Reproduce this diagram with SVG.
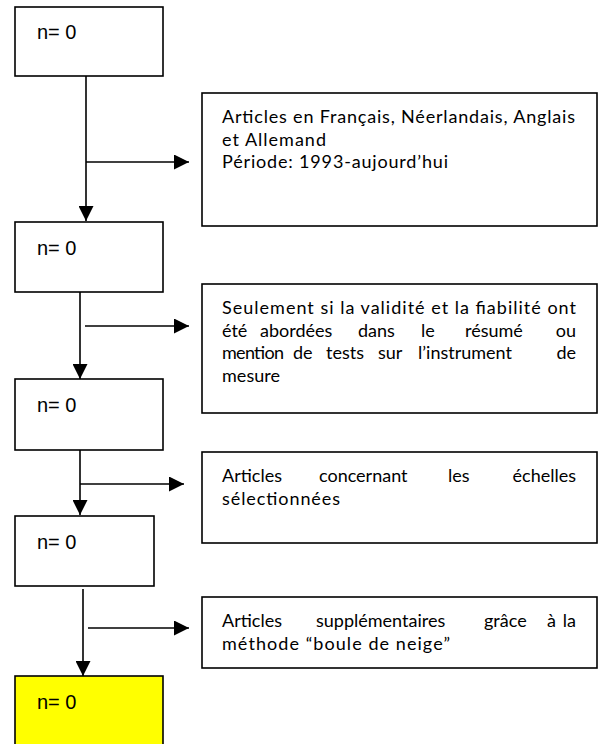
<svg xmlns="http://www.w3.org/2000/svg" width="605" height="744" viewBox="0 0 605 744">
<defs>
<style>
.box{fill:#fff;stroke:#000;stroke-width:1.6}
.yel{fill:#ffff00;stroke:#000;stroke-width:1.6}
.n{font-family:"Liberation Sans",Arial,sans-serif;font-size:20px;fill:#000}
.t{font-family:Lato,"Open Sans",sans-serif;font-size:18px;fill:#000}
.e{text-anchor:end}
.ln{stroke:#000;stroke-width:1.6;fill:none;marker-end:url(#ah)}
</style>
<marker id="ah" markerUnits="userSpaceOnUse" markerWidth="15" markerHeight="15" refX="15" refY="7.5" orient="auto">
<path d="M0,0 L15,7.5 L0,15 z" fill="#000"/>
</marker>
</defs>
<rect width="605" height="744" fill="#fff"/>
<g id="connectors">
<line class="ln" x1="86" y1="76" x2="86" y2="221"/>
<line class="ln" x1="86" y1="162" x2="189" y2="162"/>
<line class="ln" x1="80" y1="292" x2="80" y2="379"/>
<line class="ln" x1="85" y1="326" x2="189" y2="326"/>
<line class="ln" x1="80" y1="447" x2="80" y2="515"/>
<line class="ln" x1="80" y1="484" x2="184" y2="484"/>
<line class="ln" x1="83" y1="589" x2="83" y2="676"/>
<line class="ln" x1="88" y1="628" x2="189" y2="628"/>
</g>
<g id="n1"><rect class="box" x="15" y="7" width="148" height="69"/><text class="n" x="37" y="39">n= 0</text></g>
<g id="n2"><rect class="box" x="15" y="222" width="148" height="70"/><text class="n" x="37" y="255">n= 0</text></g>
<g id="n3"><rect class="box" x="15" y="379" width="148" height="71"/><text class="n" x="37" y="412">n= 0</text></g>
<g id="n4"><rect class="box" x="15" y="516" width="139" height="70"/><text class="n" x="37" y="549">n= 0</text></g>
<g id="n5"><rect class="yel" x="15" y="676" width="148" height="75"/><text class="n" x="37" y="709">n= 0</text></g>
<g id="c1"><rect class="box" x="202" y="93" width="395" height="133"/>
<text class="t" x="222" y="123" textLength="353" lengthAdjust="spacing">Articles en Français, Néerlandais, Anglais</text>
<text class="t" x="222" y="145.5" textLength="104" lengthAdjust="spacing">et Allemand</text>
<text class="t" x="222" y="168" textLength="226" lengthAdjust="spacing">Période: 1993-aujourd’hui</text>
</g>
<g id="c2"><rect class="box" x="202" y="284" width="395" height="129"/>
<text class="t" x="222" y="314" textLength="354" lengthAdjust="spacing">Seulement si la validité et la fiabilité ont</text>
<text class="t" y="336.5"><tspan x="222">été</tspan><tspan x="260">abordées</tspan><tspan x="358">dans</tspan><tspan x="421">le</tspan><tspan x="465">résumé</tspan></text>
<text class="t e" x="576" y="336.5">ou</text>
<text class="t" y="359"><tspan x="222" textLength="62" lengthAdjust="spacing">mention</tspan><tspan x="293">de</tspan><tspan x="326">tests</tspan><tspan x="378">sur</tspan><tspan x="418">l’instrument</tspan></text>
<text class="t e" x="576" y="359">de</text>
<text class="t" x="222" y="381.5" textLength="58" lengthAdjust="spacing">mesure</text>
</g>
<g id="c3"><rect class="box" x="202" y="452" width="395" height="91"/>
<text class="t" y="482"><tspan x="222">Articles</tspan><tspan x="319">concernant</tspan><tspan x="448">les</tspan></text>
<text class="t e" x="576" y="482">échelles</text>
<text class="t" x="222" y="504.5" textLength="118" lengthAdjust="spacing">sélectionnées</text>
</g>
<g id="c4"><rect class="box" x="202" y="597" width="395" height="71"/>
<text class="t" y="627"><tspan x="222">Articles</tspan><tspan x="316">supplémentaires</tspan><tspan x="484">grâce</tspan><tspan x="547">à</tspan></text>
<text class="t e" x="576" y="627">la</text>
<text class="t" x="222" y="649.5" textLength="228" lengthAdjust="spacing">méthode “boule de neige”</text>
</g>
</svg>
